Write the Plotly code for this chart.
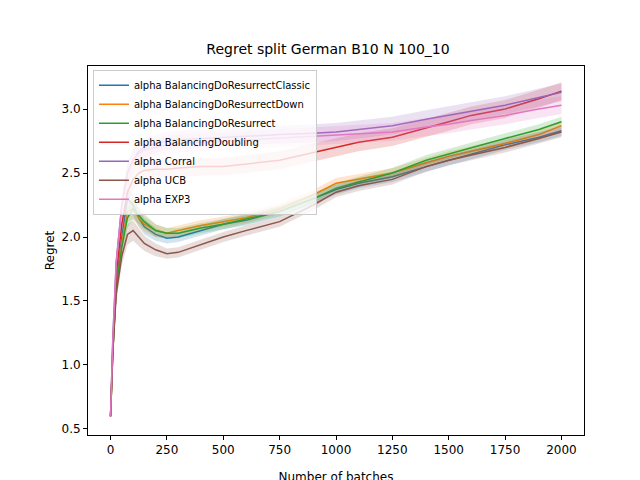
import plotly.graph_objects as go

x = [0, 10, 25, 50, 75, 100, 125, 150, 200, 250, 300, 400, 500, 600, 750, 900, 1000, 1100, 1250, 1400, 1500, 1600, 1750, 1900, 2000]

classic = [0.6, 1.1, 1.6, 2.0, 2.3, 2.25, 2.15, 2.08, 2.02, 1.99, 2.0, 2.05, 2.1, 2.13, 2.2, 2.3, 2.37, 2.42, 2.47, 2.55, 2.6, 2.65, 2.72, 2.78, 2.83]
down = [0.6, 1.1, 1.6, 1.95, 2.2, 2.22, 2.15, 2.1, 2.05, 2.03, 2.05, 2.09, 2.12, 2.15, 2.22, 2.33, 2.42, 2.45, 2.5, 2.58, 2.63, 2.67, 2.73, 2.8, 2.87]
resurrect = [0.6, 1.1, 1.6, 1.92, 2.15, 2.22, 2.17, 2.12, 2.05, 2.03, 2.03, 2.07, 2.1, 2.14, 2.2, 2.3, 2.38, 2.43, 2.5, 2.6, 2.65, 2.7, 2.77, 2.84, 2.9]
doubling = [0.6, 1.15, 1.7, 2.1, 2.35, 2.45, 2.5, 2.52, 2.53, 2.53, 2.54, 2.55, 2.55, 2.57, 2.6, 2.66, 2.7, 2.74, 2.78, 2.85, 2.9, 2.95, 3.0, 3.08, 3.14]
corral = [0.6, 1.2, 1.8, 2.25, 2.5, 2.6, 2.67, 2.7, 2.73, 2.75, 2.76, 2.77, 2.78, 2.79, 2.8, 2.81, 2.82, 2.84, 2.87, 2.92, 2.95, 2.98, 3.03, 3.09, 3.13]
ucb = [0.6, 1.1, 1.55, 1.85, 2.02, 2.05, 2.0, 1.95, 1.9, 1.87, 1.88, 1.94, 2.0, 2.05, 2.12, 2.25, 2.35, 2.4, 2.45, 2.55, 2.6, 2.64, 2.7, 2.77, 2.82]
exp3 = [0.6, 1.2, 1.8, 2.25, 2.5, 2.6, 2.65, 2.68, 2.7, 2.72, 2.73, 2.74, 2.75, 2.76, 2.77, 2.79, 2.8, 2.81, 2.82, 2.86, 2.88, 2.91, 2.95, 3.0, 3.03]

band_small = [0.01, 0.05, 0.06, 0.07, 0.08, 0.08, 0.07, 0.06, 0.05, 0.04, 0.04, 0.04, 0.04, 0.04, 0.04, 0.04, 0.04, 0.04, 0.04, 0.04, 0.04, 0.04, 0.04, 0.04, 0.04]
band_big = [0.01, 0.05, 0.06, 0.07, 0.08, 0.08, 0.08, 0.08, 0.07, 0.07, 0.07, 0.07, 0.07, 0.07, 0.07, 0.07, 0.07, 0.07, 0.07, 0.07, 0.07, 0.07, 0.07, 0.07, 0.07]

series = [
    ("alpha BalancingDoResurrectClassic", classic, band_small, (31, 119, 180)),
    ("alpha BalancingDoResurrectDown", down, band_small, (255, 127, 14)),
    ("alpha BalancingDoResurrect", resurrect, band_small, (44, 160, 44)),
    ("alpha BalancingDoubling", doubling, band_big, (214, 39, 40)),
    ("alpha Corral", corral, band_big, (148, 103, 189)),
    ("alpha UCB", ucb, band_small, (140, 86, 75)),
    ("alpha EXP3", exp3, band_big, (227, 119, 194)),
]

fig = go.Figure()
for name, y, b, c in series:
    col = "rgb(%d,%d,%d)" % c
    fill = "rgba(%d,%d,%d,0.2)" % c
    fig.add_trace(go.Scatter(x=x, y=[v + d for v, d in zip(y, b)], mode="lines",
                             line=dict(width=0), showlegend=False, hoverinfo="skip"))
    fig.add_trace(go.Scatter(x=x, y=[v - d for v, d in zip(y, b)], mode="lines",
                             line=dict(width=0), fill="tonexty", fillcolor=fill,
                             showlegend=False, hoverinfo="skip"))
    fig.add_trace(go.Scatter(x=x, y=y, mode="lines", name=name, line=dict(color=col, width=1.5)))

axis = dict(showgrid=False, zeroline=False, showline=True, linecolor="black", mirror=True,
            ticks="outside", ticklen=4, tickcolor="black", tickfont=dict(size=12), automargin=False)
fig.update_layout(
    width=640, height=480,
    template="none",
    font=dict(family="DejaVu Sans", size=12, color="black"),
    title=dict(text="Regret split German B10 N 100_10", x=0.5, y=0.925, xanchor="center", font=dict(size=14)),
    margin=dict(l=80, r=64, t=58, b=53),
    plot_bgcolor="white", paper_bgcolor="white",
    xaxis=dict(axis, title=dict(text="Number of batches", font=dict(size=12)), range=[-100, 2100],
               tickvals=[0, 250, 500, 750, 1000, 1250, 1500, 1750, 2000]),
    yaxis=dict(axis, title=dict(text="Regret", font=dict(size=12)), range=[0.453, 3.336],
               tickvals=[0.5, 1.0, 1.5, 2.0, 2.5, 3.0], tickformat=".1f"),
    legend=dict(x=0.01, y=0.99, xanchor="left", yanchor="top", bgcolor="rgba(255,255,255,0.8)",
                bordercolor="#cccccc", borderwidth=1, font=dict(size=10), tracegroupgap=0,
                traceorder="normal"),
)
fig.write_html("out.html")
